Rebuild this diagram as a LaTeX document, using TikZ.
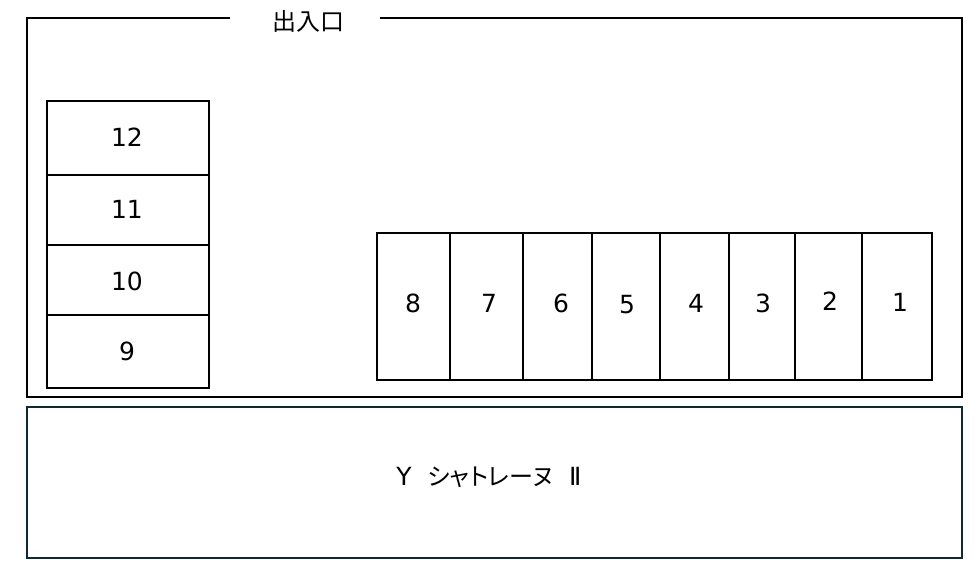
\documentclass[tikz,border=0pt]{standalone}
\usepackage{fontspec}
\setmainfont{DejaVu Sans}
\newfontfamily\jpfont{Noto Sans CJK JP}
\newfontfamily\jppropfont[RawFeature=+palt]{Noto Sans CJK JP}
\definecolor{bldgline}{RGB}{16,40,50}
\begin{document}
\begin{tikzpicture}[x=1pt,y=-1pt,line width=2pt,
  every node/.style={font=\fontsize{25}{30}\selectfont}]
\useasboundingbox (0,0) rectangle (978,571);

% parking lot outline with the gate gap
\draw (230,18) -- (27,18) -- (27,397) -- (962,397) -- (962,18) -- (380,18);
\node (gate) at (308,21) {\jpfont\fontsize{24}{28}\selectfont 出入口};

% left stalls
\draw (47,101) rectangle (209,388);
\foreach \y in {175,245,315}
	\draw (47,\y) -- (209,\y);
\foreach \y/\n in {137/12,209/11,281/10,351/9}
	\node (stall\n) at (127,\y) {\n};

% right stalls
\draw (377,233) rectangle (932,380);
\foreach \x in {450,523,592,660,729,795,862}
	\draw (\x,233) -- (\x,380);
\foreach \x/\y/\n in {413/303/8,489/303/7,561/303/6,627/305/5,696/303/4,763/303/3,830/301/2,900/302/1}
	\node (stall\n) at (\x,\y) {\n};

% building
\draw[bldgline] (27,407) rectangle (962,558);
\node (bldg) at (489,477) {Y\hspace{16pt}{\jppropfont\fontsize{24}{28}\selectfont シャトレーヌ}\hspace{16pt}Ⅱ};

\end{tikzpicture}
\end{document}
